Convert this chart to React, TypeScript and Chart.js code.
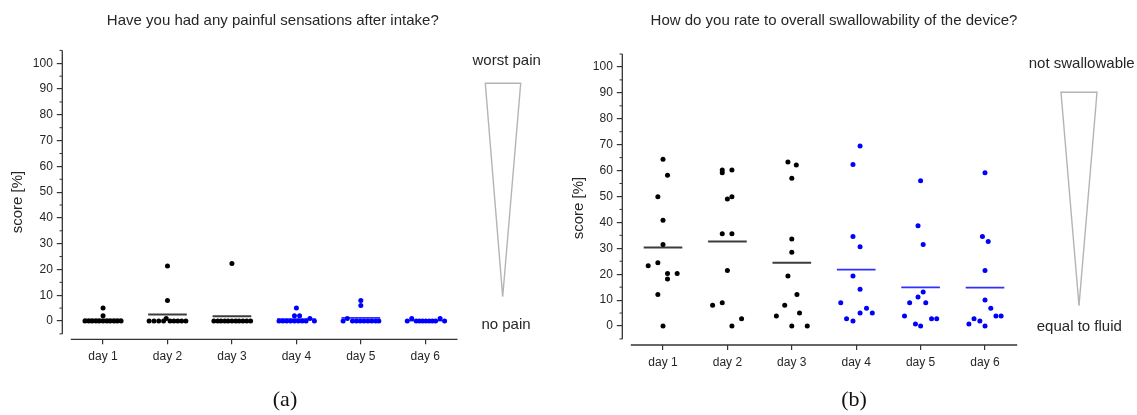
import React, { useEffect, useRef } from "react";
import { Chart, registerables } from "chart.js";
Chart.register(...registerables);

// ---------- categories & ticks ----------
const days = ["day 1", "day 2", "day 3", "day 4", "day 5", "day 6"];
const yTickLabels = [0, 10, 20, 30, 40, 50, 60, 70, 80, 90, 100];
const yMinorTicks = [-5, 5, 15, 25, 35, 45, 55, 65, 75, 85, 95, 105];

// ---------- (a) painful sensations: scores and horizontal jitter (category units) ----------
const painDay1 = [0, 0, 0, 0, 0, 0, 0, 0, 0, 0, 0, 2, 5];
const painDay1Jitter = [-0.28, -0.22, -0.17, -0.11, -0.06, 0, 0.06, 0.11, 0.17, 0.22, 0.28, 0, 0];
const painDay2 = [0, 0, 0, 0, 1, 0, 0, 0, 0, 0, 8, 21.3];
const painDay2Jitter = [-0.285, -0.21, -0.135, -0.06, -0.02, 0.04, 0.1, 0.16, 0.22, 0.285, 0, 0];
const painDay3 = [0, 0, 0, 0, 0, 0, 0, 0, 0, 0, 0, 22.3];
const painDay3Jitter = [-0.28, -0.22, -0.17, -0.11, -0.06, 0, 0.06, 0.11, 0.17, 0.23, 0.29, 0];
const painDay4 = [0, 0, 0, 0, 0, 0, 0, 0, 0, 2, 2, 5, 1];
const painDay4Jitter = [-0.27, -0.21, -0.15, -0.09, -0.03, 0.03, 0.09, 0.15, 0.28, -0.03, 0.05, 0, 0.21];
const painDay5 = [0, 1, 0, 0, 0, 0, 0, 0, 0, 0, 6, 8];
const painDay5Jitter = [-0.275, -0.21, -0.13, -0.07, -0.01, 0.05, 0.11, 0.17, 0.23, 0.28, 0, 0];
const painDay6 = [0, 1, 0, 0, 0, 0, 0, 0, 0, 1, 0];
const painDay6Jitter = [-0.28, -0.21, -0.14, -0.09, -0.04, 0.01, 0.06, 0.11, 0.16, 0.23, 0.3];

// ---------- (b) swallowability: scores and horizontal jitter ----------
const swallowDay1 = [64.4, 58.2, 49.9, 40.8, 31.5, 23.3, 24.4, 20.3, 20.3, 18.1, 12.2, 0];
const swallowDay1Jitter = [0, 0.07, -0.08, 0, 0, -0.23, -0.08, 0.07, 0.22, 0.07, -0.08, 0];
const swallowDay2 = [60.2, 59.2, 60.2, 49.0, 49.9, 35.6, 35.6, 21.4, 8.0, 9.0, 0, 2.8];
const swallowDay2Jitter = [-0.08, -0.08, 0.07, 0, 0.07, -0.08, 0.07, 0, -0.23, -0.08, 0.07, 0.22];
const swallowDay3 = [63.3, 62.2, 57.0, 33.6, 28.5, 19.3, 12.2, 8.0, 3.9, 5.0, 0, 0];
const swallowDay3Jitter = [-0.06, 0.07, 0, 0, 0, -0.06, 0.08, -0.11, -0.24, 0.12, 0, 0.24];
const swallowDay4 = [69.5, 62.3, 34.6, 30.6, 19.3, 14.2, 9.0, 2.8, 1.9, 5.0, 6.9, 5.0];
const swallowDay4Jitter = [0.06, -0.05, -0.05, 0.06, -0.05, 0.06, -0.24, -0.15, -0.05, 0.06, 0.16, 0.25];
const swallowDay5 = [56.1, 38.7, 31.5, 13.1, 11.2, 9.0, 9.0, 3.9, 0.8, 0, 2.8, 2.8];
const swallowDay5Jitter = [0, -0.04, 0.04, 0.04, -0.04, -0.17, 0.08, -0.25, -0.08, 0, 0.17, 0.25];
const swallowDay6 = [59.2, 34.6, 32.6, 21.4, 10.0, 6.9, 3.9, 3.9, 2.8, 1.9, 0.8, 0];
const swallowDay6Jitter = [0, -0.04, 0.05, 0, 0, 0.09, 0.17, 0.25, -0.17, -0.08, -0.25, 0];

// ---------- styles ----------
const SANS = "'Liberation Sans', Arial, Helvetica, sans-serif";
const SERIF = "'Liberation Serif', 'Times New Roman', serif";
const TEXT = "#262626";
const AXIS = "#333333";
const DOT_BLACK = "#000000";
const DOT_BLUE = "#0000ff";
const MEAN_BLACK = "#3c3c3c";
const MEAN_BLUE = "#3030ff";

const mean = (a: number[]) => a.reduce((s, v) => s + v, 0) / a.length;

function buildDatasets(values: number[][], jitter: number[][]) {
  const ds: any[] = [];
  values.forEach((vals, i) => {
    const blue = i >= 3;
    ds.push({
      label: days[i],
      data: vals.map((v, k) => ({ x: i + 1 + jitter[i][k], y: v })),
      pointRadius: 2.5,
      pointHoverRadius: 2.5,
      pointBackgroundColor: blue ? DOT_BLUE : DOT_BLACK,
      pointBorderWidth: 0,
      showLine: false,
      order: 1,
    });
    const m = mean(vals);
    ds.push({
      label: days[i] + " mean",
      data: [
        { x: i + 1 - 0.3, y: m },
        { x: i + 1 + 0.3, y: m },
      ],
      showLine: true,
      borderColor: blue ? MEAN_BLUE : MEAN_BLACK,
      borderWidth: blue ? 1.7 : 2,
      pointRadius: 0,
      order: 2,
    });
  });
  return ds;
}

type PanelProps = {
  left: number;
  width: number;
  padding: { left: number; right: number; top: number; bottom: number };
  yMin: number;
  values: number[][];
  jitter: number[][];
  title: string;
  titlePos: [number, number];
  topLabel: string;
  topPos: [number, number];
  bottomLabel: string;
  bottomPos: [number, number];
  tri: [number, number, number, number, number]; // xLeft, yTop, xRight, xApex, yApex
  panel: string;
  panelPos: [number, number];
  yTitlePos: [number, number];
};

function Panel(p: PanelProps) {
  const ref = useRef<HTMLCanvasElement | null>(null);
  useEffect(() => {
    if (!ref.current) return;
    const annot = {
      id: "annot",
      afterDraw(chart: any) {
        const { ctx, chartArea } = chart;
        const x = chart.scales.x;
        const y = chart.scales.y;
        ctx.save();
        ctx.strokeStyle = AXIS;
        ctx.lineWidth = 1.3;
        // x axis line (detached)
        const yb = chartArea.bottom;
        ctx.beginPath();
        ctx.moveTo(x.getPixelForValue(0.5), yb);
        ctx.lineTo(x.getPixelForValue(6.5), yb);
        ctx.stroke();
        // y axis line
        const ax = chartArea.left;
        ctx.beginPath();
        ctx.moveTo(ax, y.getPixelForValue(-5));
        ctx.lineTo(ax, y.getPixelForValue(105));
        ctx.stroke();
        // minor ticks
        ctx.lineWidth = 1;
        yMinorTicks.forEach((v) => {
          const py = y.getPixelForValue(v);
          ctx.beginPath();
          ctx.moveTo(ax - 2.8, py);
          ctx.lineTo(ax, py);
          ctx.stroke();
        });
        // title
        ctx.fillStyle = TEXT;
        ctx.textAlign = "center";
        ctx.textBaseline = "middle";
        ctx.font = `15px ${SANS}`;
        ctx.fillText(p.title, p.titlePos[0], p.titlePos[1]);
        // scale labels
        ctx.font = `15px ${SANS}`;
        ctx.fillText(p.topLabel, p.topPos[0], p.topPos[1]);
        ctx.fillText(p.bottomLabel, p.bottomPos[0], p.bottomPos[1]);
        // y title
        ctx.save();
        ctx.translate(p.yTitlePos[0], p.yTitlePos[1]);
        ctx.rotate(-Math.PI / 2);
        ctx.fillText("score [%]", 0, 0);
        ctx.restore();
        // triangle
        const [tl, tt, tr, tax, tay] = p.tri;
        ctx.strokeStyle = "#b4b4b4";
        ctx.lineWidth = 1.4;
        ctx.beginPath();
        ctx.moveTo(tl, tt);
        ctx.lineTo(tr, tt);
        ctx.lineTo(tax, tay);
        ctx.closePath();
        ctx.stroke();
        // panel label
        ctx.fillStyle = "#111";
        ctx.font = `22px ${SERIF}`;
        ctx.fillText(p.panel, p.panelPos[0], p.panelPos[1]);
        ctx.restore();
      },
    };
    const chart = new Chart(ref.current, {
      type: "scatter",
      data: { datasets: buildDatasets(p.values, p.jitter) },
      options: {
        animation: false,
        responsive: false,
        devicePixelRatio: 1,
        layout: { padding: p.padding },
        plugins: { legend: { display: false }, tooltip: { enabled: false }, title: { display: false } },
        scales: {
          x: {
            type: "linear",
            min: 0.368,
            max: 6.5,
            afterBuildTicks: (s: any) => {
              s.ticks = days.map((_, i) => ({ value: i + 1 }));
            },
            afterFit: (s: any) => {
              s.height = 30;
            },
            ticks: {
              callback: (v: any) => days[Math.round(Number(v)) - 1] ?? "",
              font: { family: SANS, size: 12 },
              color: TEXT,
              padding: 5,
              maxRotation: 0,
              autoSkip: false,
            },
            grid: { display: true, drawOnChartArea: false, drawTicks: true, tickLength: 5, color: AXIS, lineWidth: 1.2 },
            border: { display: false },
          },
          y: {
            type: "linear",
            min: p.yMin,
            max: 105,
            afterBuildTicks: (s: any) => {
              s.ticks = yTickLabels.map((v) => ({ value: v }));
            },
            afterFit: (s: any) => {
              s.width = 40;
            },
            ticks: {
              callback: (v: any) => String(v),
              font: { family: SANS, size: 12 },
              color: TEXT,
              padding: 4,
              autoSkip: false,
            },
            grid: { display: true, drawOnChartArea: false, drawTicks: true, tickLength: 5.5, color: AXIS, lineWidth: 1.2 },
            border: { display: false },
          },
        },
      },
      plugins: [annot],
    } as any);
    return () => chart.destroy();
  }, []);
  return (
    <canvas
      ref={ref}
      width={p.width}
      height={415}
      style={{ position: "absolute", left: p.left, top: 0, width: p.width, height: 415 }}
    />
  );
}

export default function App() {
  return (
    <div style={{ position: "absolute", left: 0, top: 0, width: 1137, height: 415, background: "#ffffff", overflow: "hidden" }}>
      <Panel
        left={0}
        width={570}
        padding={{ left: 22.3, right: 112.5, top: 50.4, bottom: 45.7 }}
        yMin={-7.1}
        values={[painDay1, painDay2, painDay3, painDay4, painDay5, painDay6]}
        jitter={[painDay1Jitter, painDay2Jitter, painDay3Jitter, painDay4Jitter, painDay5Jitter, painDay6Jitter]}
        title="Have you had any painful sensations after intake?"
        titlePos={[272.8, 20.7]}
        topLabel="worst pain"
        topPos={[506.7, 60.7]}
        bottomLabel="no pain"
        bottomPos={[506, 325]}
        tri={[485.3, 83.3, 520.7, 502.7, 296.7]}
        panel="(a)"
        panelPos={[285, 400]}
        yTitlePos={[18, 202]}
      />
      <Panel
        left={560}
        width={577}
        padding={{ left: 22.3, right: 119.8, top: 54, bottom: 40 }}
        yMin={-7.33}
        values={[swallowDay1, swallowDay2, swallowDay3, swallowDay4, swallowDay5, swallowDay6]}
        jitter={[swallowDay1Jitter, swallowDay2Jitter, swallowDay3Jitter, swallowDay4Jitter, swallowDay5Jitter, swallowDay6Jitter]}
        title="How do you rate to overall swallowability of the device?"
        titlePos={[274, 21]}
        topLabel="not swallowable"
        topPos={[521.7, 64]}
        bottomLabel="equal to fluid"
        bottomPos={[519.3, 327.3]}
        tri={[501, 92.3, 537, 519, 305.7]}
        panel="(b)"
        panelPos={[294, 400]}
        yTitlePos={[19, 208]}
      />
    </div>
  );
}
